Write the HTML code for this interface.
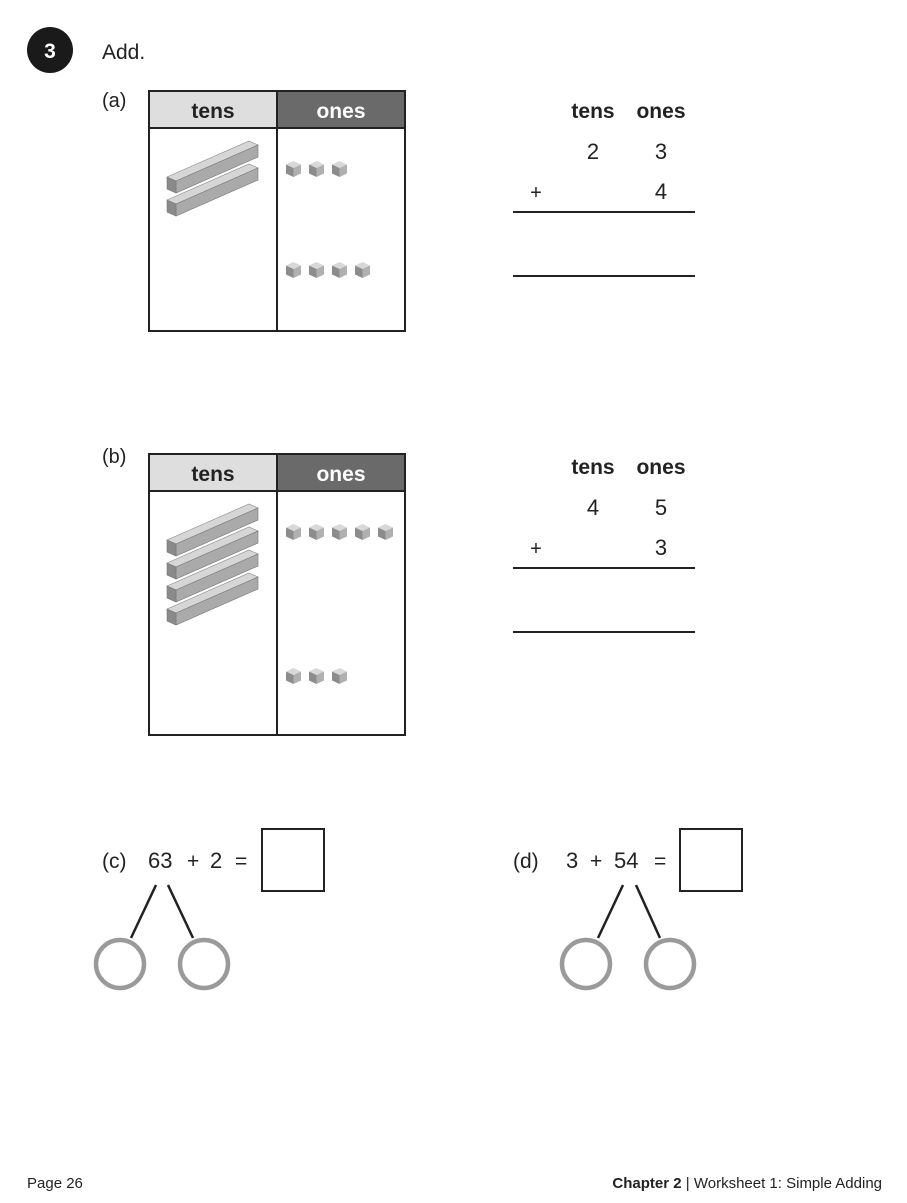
<!DOCTYPE html>
<html><head><meta charset="utf-8"><style>
html,body{margin:0;padding:0;background:#fff}
svg{display:block}
text{font-family:"Liberation Sans",sans-serif;fill:#222}
</style></head><body>
<svg width="907" height="1203" viewBox="0 0 907 1203" xmlns="http://www.w3.org/2000/svg">
<defs>
<g id="rod">
<polygon points="0,0 82,-36 91,-32 9,4" fill="#d6d6d6" stroke="#888" stroke-width="0.6"/>
<polygon points="9,4 91,-32 91,-20 9,16" fill="#aaaaaa" stroke="#777" stroke-width="0.6"/>
<polygon points="0,0 9,4 9,16 0,12" fill="#8a8a8a" stroke="#777" stroke-width="0.6"/>
</g>
<g id="cube">
<polygon points="0,3.5 7.5,0 15,3.5 7.5,7" fill="#d8d8d8"/>
<polygon points="0,3.5 7.5,7 7.5,16 0,12.5" fill="#8c8c8c"/>
<polygon points="7.5,7 15,3.5 15,12.5 7.5,16" fill="#b0b0b0"/>
</g>
</defs>
<circle cx="50" cy="50" r="23" fill="#1a1a1a"/>
<text x="50" y="58" font-size="21" font-weight="bold" text-anchor="middle" style="fill:#fff">3</text>
<text x="102" y="59" font-size="21">Add.</text>

<text x="102" y="107" font-size="20">(a)</text>
<rect x="149" y="91" width="128" height="37" fill="#dedede"/>
<rect x="277" y="91" width="128" height="37" fill="#6a6a6a"/>
<rect x="149" y="91" width="256" height="240" fill="none" stroke="#222" stroke-width="2"/>
<line x1="149" y1="128" x2="405" y2="128" stroke="#222" stroke-width="2"/>
<line x1="277" y1="91" x2="277" y2="331" stroke="#222" stroke-width="2"/>
<text x="213" y="118" font-size="21" font-weight="bold" text-anchor="middle">tens</text>
<text x="341" y="118" font-size="21" font-weight="bold" text-anchor="middle" style="fill:#fff">ones</text>
<use href="#rod" x="167" y="177"/>
<use href="#rod" x="167" y="200"/>
<use href="#cube" x="286" y="161"/><use href="#cube" x="309" y="161"/><use href="#cube" x="332" y="161"/>
<use href="#cube" x="286" y="262"/><use href="#cube" x="309" y="262"/><use href="#cube" x="332" y="262"/><use href="#cube" x="355" y="262"/>

<text x="593" y="118" font-size="21" font-weight="bold" text-anchor="middle">tens</text>
<text x="661" y="118" font-size="21" font-weight="bold" text-anchor="middle">ones</text>
<text x="593" y="159" font-size="22" text-anchor="middle">2</text>
<text x="661" y="159" font-size="22" text-anchor="middle">3</text>
<text x="536" y="199" font-size="20" text-anchor="middle">+</text>
<text x="661" y="199" font-size="22" text-anchor="middle">4</text>
<line x1="513" y1="212" x2="695" y2="212" stroke="#222" stroke-width="2"/>
<line x1="513" y1="276" x2="695" y2="276" stroke="#222" stroke-width="2"/>

<text x="102" y="463" font-size="20">(b)</text>
<rect x="149" y="454" width="128" height="37" fill="#dedede"/>
<rect x="277" y="454" width="128" height="37" fill="#6a6a6a"/>
<rect x="149" y="454" width="256" height="281" fill="none" stroke="#222" stroke-width="2"/>
<line x1="149" y1="491" x2="405" y2="491" stroke="#222" stroke-width="2"/>
<line x1="277" y1="454" x2="277" y2="735" stroke="#222" stroke-width="2"/>
<text x="213" y="481" font-size="21" font-weight="bold" text-anchor="middle">tens</text>
<text x="341" y="481" font-size="21" font-weight="bold" text-anchor="middle" style="fill:#fff">ones</text>
<use href="#rod" x="167" y="540"/>
<use href="#rod" x="167" y="563"/>
<use href="#rod" x="167" y="586"/>
<use href="#rod" x="167" y="609"/>
<use href="#cube" x="286" y="524"/><use href="#cube" x="309" y="524"/><use href="#cube" x="332" y="524"/><use href="#cube" x="355" y="524"/><use href="#cube" x="378" y="524"/>
<use href="#cube" x="286" y="668"/><use href="#cube" x="309" y="668"/><use href="#cube" x="332" y="668"/>

<text x="593" y="474" font-size="21" font-weight="bold" text-anchor="middle">tens</text>
<text x="661" y="474" font-size="21" font-weight="bold" text-anchor="middle">ones</text>
<text x="593" y="515" font-size="22" text-anchor="middle">4</text>
<text x="661" y="515" font-size="22" text-anchor="middle">5</text>
<text x="536" y="555" font-size="20" text-anchor="middle">+</text>
<text x="661" y="555" font-size="22" text-anchor="middle">3</text>
<line x1="513" y1="568" x2="695" y2="568" stroke="#222" stroke-width="2"/>
<line x1="513" y1="632" x2="695" y2="632" stroke="#222" stroke-width="2"/>

<text x="102" y="868" font-size="21">(c)</text>
<text x="148" y="868" font-size="22">63</text>
<text x="187" y="868" font-size="21">+</text>
<text x="210" y="868" font-size="22">2</text>
<text x="235" y="868" font-size="21">=</text>
<rect x="262" y="829" width="62" height="62" fill="none" stroke="#222" stroke-width="2"/>
<line x1="156" y1="885" x2="131" y2="938" stroke="#222" stroke-width="2.5"/>
<line x1="168" y1="885" x2="193" y2="938" stroke="#222" stroke-width="2.5"/>
<circle cx="120" cy="964" r="24" fill="none" stroke="#9a9a9a" stroke-width="4.5"/>
<circle cx="204" cy="964" r="24" fill="none" stroke="#9a9a9a" stroke-width="4.5"/>

<text x="513" y="868" font-size="21">(d)</text>
<text x="566" y="868" font-size="22">3</text>
<text x="590" y="868" font-size="21">+</text>
<text x="614" y="868" font-size="22">54</text>
<text x="654" y="868" font-size="21">=</text>
<rect x="680" y="829" width="62" height="62" fill="none" stroke="#222" stroke-width="2"/>
<line x1="623" y1="885" x2="598" y2="938" stroke="#222" stroke-width="2.5"/>
<line x1="636" y1="885" x2="660" y2="938" stroke="#222" stroke-width="2.5"/>
<circle cx="586" cy="964" r="24" fill="none" stroke="#9a9a9a" stroke-width="4.5"/>
<circle cx="670" cy="964" r="24" fill="none" stroke="#9a9a9a" stroke-width="4.5"/>

<text x="27" y="1188" font-size="15">Page 26</text>
<text x="882" y="1188" font-size="15" text-anchor="end"><tspan font-weight="bold">Chapter 2</tspan> | Worksheet 1: Simple Adding</text>
</svg>
</body></html>
